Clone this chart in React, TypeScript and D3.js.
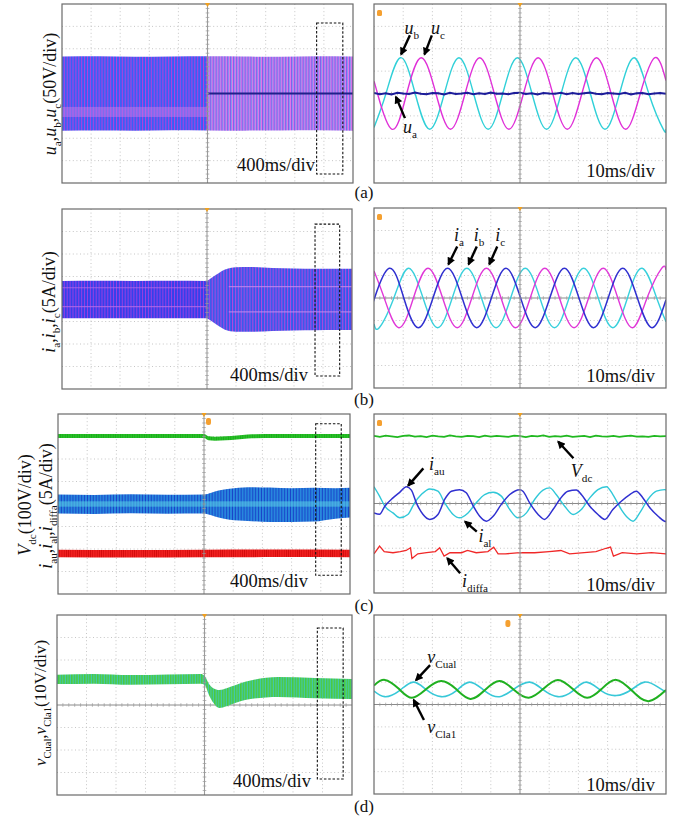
import React from "react";
import * as d3 from "d3";

type Pt = [number, number];
type Part = { s: string; it?: boolean; sub?: boolean };

const FONT = "'Liberation Serif', 'Times New Roman', serif";

// ================= DATA =================
// Left column: time in s (400 ms/div, 0..4 s), amplitude in divisions (-4..4)
const FAULT_T = 2.0;

const aEnvT = [0, 0.5, 1.0, 1.5, 2.0, 2.5, 3.0, 3.5, 4.0];
const aEnvUp = [1.65, 1.66, 1.64, 1.65, 1.66, 1.65, 1.64, 1.66, 1.65];
const aEnvLo = [-1.66, -1.65, -1.66, -1.64, -1.65, -1.66, -1.65, -1.64, -1.66];
const aInnerBefore = [-0.6, -1.05];
const aInnerAfter = [0.0];

const bEnvT = [0, 0.5, 1.0, 1.5, 2.0, 2.08, 2.16, 2.24, 2.32, 2.4, 2.6, 2.9, 3.2, 3.5, 3.8, 4.0];
const bEnvUp = [0.8, 0.81, 0.8, 0.81, 0.8, 0.98, 1.15, 1.3, 1.38, 1.41, 1.42, 1.38, 1.36, 1.35, 1.34, 1.34];
const bEnvLo = [-0.86, -0.85, -0.86, -0.85, -0.86, -1.02, -1.2, -1.35, -1.43, -1.45, -1.46, -1.42, -1.4, -1.39, -1.38, -1.38];
const bInnerBefore = [0.5, -0.34];
const bInnerAfter = [0.55, -0.57];

const cIEnvT = [0, 0.5, 1.0, 1.5, 2.0, 2.1, 2.2, 2.35, 2.6, 2.9, 3.2, 3.5, 3.8, 4.0];
const cIEnvUp = [0.42, 0.4, 0.43, 0.41, 0.42, 0.5, 0.6, 0.68, 0.75, 0.73, 0.7, 0.72, 0.7, 0.72];
const cIEnvLo = [-0.42, -0.44, -0.41, -0.43, -0.42, -0.5, -0.6, -0.7, -0.75, -0.8, -0.8, -0.78, -0.65, -0.6];
const cVdcT = [0, 1.0, 2.0, 2.06, 2.15, 2.3, 2.45, 2.6, 3.0, 4.0];
const cVdcMid = [3.02, 3.02, 3.02, 2.92, 2.9, 2.92, 2.96, 3.0, 3.02, 3.02];
const cDiffT = [0, 1.0, 2.0, 3.0, 4.0];
const cDiffMid = [-2.2, -2.21, -2.2, -2.19, -2.2];

const dEnvT = [0, 0.5, 1.0, 1.5, 1.95, 2.0, 2.06, 2.12, 2.2, 2.3, 2.55, 3.0, 3.5, 4.0];
const dEnvUp = [1.35, 1.38, 1.33, 1.36, 1.38, 1.3, 0.95, 0.75, 0.67, 0.75, 1.03, 1.24, 1.2, 1.16];
const dEnvLo = [0.93, 0.95, 0.9, 0.92, 0.95, 0.9, 0.45, 0.1, -0.13, -0.05, 0.22, 0.36, 0.3, 0.27];

// zoom windows (dashed boxes) in left panels: [t0, t1, vTop, vBottom]
const boxA = [3.5, 3.86, 3.15, -3.6];
const boxB = [3.49, 3.83, 3.33, -3.42];
const boxC = [3.53, 3.88, 3.57, -3.17];
const boxD = [3.53, 3.88, 3.42, -3.29];

// Right column: time in ms (10 ms/div, 0..100 ms), amplitude in divisions
const uB: Pt[] = [[0, -1.52], [4.1, 0], [9.1, 1.6], [14.1, 0], [19.1, -1.6], [24.1, 0], [29.1, 1.6], [34.1, 0], [39.1, -1.6], [44.1, 0], [49.1, 1.6], [54.1, 0], [59.1, -1.6], [64.1, 0], [69.1, 1.6], [74.1, 0], [79.1, -1.6], [84.1, 0], [89.1, 1.6], [94.1, 0], [99.1, -1.6], [100, -1.58]];
const uC: Pt[] = [[0, 0.55], [1.2, 0], [6.2, -1.6], [11.2, 0], [16.2, 1.6], [21.2, 0], [26.2, -1.6], [31.2, 0], [36.2, 1.6], [41.2, 0], [46.2, -1.6], [51.2, 0], [56.2, 1.6], [61.2, 0], [66.2, -1.6], [71.2, 0], [76.2, 1.6], [81.2, 0], [86.2, -1.6], [91.2, 0], [96.2, 1.6], [100, 0.58]];
const uAVals = [0.02, -0.03, 0.01, -0.04, 0.03, 0.0, -0.02, 0.04, -0.01, -0.03, 0.02, 0.01, -0.04, 0.03, -0.02, 0.0, 0.03, -0.03, 0.01, -0.02, 0.04, -0.01, 0.0, -0.03, 0.02, 0.03, -0.02, 0.01, -0.04, 0.02, 0.0, -0.01, 0.03, -0.03, 0.02, -0.02, 0.01, 0.04, -0.01, -0.03, 0.02, 0.0, -0.02, 0.03, -0.04, 0.01, 0.02, -0.03, 0.0, 0.02, -0.01];

const iA: Pt[] = [[0, -0.05], [0.2, 0], [5.2, 1.32], [10.2, 0], [15.2, -1.32], [20.2, 0], [25.2, 1.32], [30.2, 0], [35.2, -1.32], [40.2, 0], [45.2, 1.32], [50.2, 0], [55.2, -1.32], [60.2, 0], [65.2, 1.32], [70.2, 0], [75.2, -1.32], [80.2, 0], [85.2, 1.32], [90.2, 0], [95.2, -1.32], [100, -0.08]];
const iB: Pt[] = [[0, -1.15], [1.8, -1.32], [6.8, 0], [11.8, 1.32], [16.8, 0], [21.8, -1.32], [26.8, 0], [31.8, 1.32], [36.8, 0], [41.8, -1.32], [46.8, 0], [51.8, 1.32], [56.8, 0], [61.8, -1.32], [66.8, 0], [71.8, 1.32], [76.8, 0], [81.8, -1.32], [86.8, 0], [91.8, 1.32], [96.8, 0], [100, -1.05]];
const iC: Pt[] = [[0, 1.2], [3.5, 0], [8.5, -1.32], [13.5, 0], [18.5, 1.32], [23.5, 0], [28.5, -1.32], [33.5, 0], [38.5, 1.32], [43.5, 0], [48.5, -1.32], [53.5, 0], [58.5, 1.32], [63.5, 0], [68.5, -1.32], [73.5, 0], [78.5, 1.32], [83.5, 0], [88.5, -1.32], [93.5, 0], [98.5, 1.32], [100, 1.25]];

const vdcVals = [3.02, 2.98, 3.03, 3.0, 2.97, 3.02, 3.04, 2.99, 3.01, 2.97, 3.03, 3.0, 2.98, 3.04, 3.0, 2.98, 3.02, 3.01, 2.97, 3.03, 2.99, 3.02, 3.0, 2.98, 3.03, 3.01, 2.97, 3.02, 3.0, 3.04, 2.98, 3.01, 2.99, 3.03, 2.98, 3.0, 3.02, 2.97, 3.03, 3.0, 2.99, 3.02, 2.98, 3.01, 3.03, 2.99, 3.0, 2.98, 3.02, 3.0, 3.01];
const iAu: Pt[] = [[0, -0.42], [1.9, -0.48], [3.7, -0.12], [6.5, 0.25], [8.8, 0.5], [11.1, 0.75], [12.8, 0.6], [14.5, 0.03], [16.8, -0.49], [19.1, -0.71], [21.9, -0.49], [24.2, 0.18], [26.5, 0.55], [29.3, 0.62], [31.6, 0.48], [33.9, -0.09], [36.2, -0.57], [38.5, -0.79], [40.8, -0.57], [43.6, -0.04], [46.5, 0.4], [49.9, 0.62], [51, 0.55], [53.3, 0.03], [56.2, -0.49], [58.4, -0.71], [61.3, -0.27], [63.6, 0.18], [66.4, 0.55], [69.3, 0.6], [71, 0.4], [73.9, -0.12], [76.7, -0.49], [79, -0.71], [81.8, -0.27], [84.7, 0.1], [87.6, 0.4], [89.8, 0.55], [92.1, 0.25], [94.4, -0.18], [97.3, -0.57], [99.5, -0.79], [100, -0.8]];
const iAl: Pt[] = [[0, 0.75], [1.9, 0.33], [3.7, -0.12], [6.5, -0.42], [8.8, -0.64], [11.6, -0.49], [13.9, 0.03], [16.2, 0.4], [19.1, 0.65], [21.9, 0.55], [24.2, 0.03], [27.1, -0.49], [29.3, -0.64], [32.2, -0.42], [35, 0.03], [37.9, 0.4], [40.8, 0.5], [43.6, 0.33], [46.5, -0.27], [49.3, -0.64], [52.2, -0.42], [55, 0.18], [57.9, 0.6], [60.2, 0.7], [62.4, 0.4], [65.3, -0.12], [68.2, -0.49], [71, -0.27], [73.9, 0.25], [76.7, 0.62], [79.6, 0.75], [81.8, 0.4], [84.7, -0.27], [86.9, -0.64], [88.7, -0.79], [91, -0.42], [93.8, 0.18], [96.7, 0.55], [99.5, 0.62], [100, 0.6]];
const iDiffa: Pt[] = [[0, -2.25], [1.9, -1.9], [3.5, -2.15], [6.5, -2.2], [9, -2.15], [11, -2.1], [12.5, -1.98], [13, -2.46], [15, -2.25], [18, -2.2], [21, -2.15], [22.5, -1.98], [24, -2.35], [26, -2.2], [30, -2.2], [32, -2.1], [35, -2.2], [39, -2.15], [41, -1.95], [42.5, -2.25], [45, -2.25], [50, -2.2], [55, -2.2], [60, -2.15], [64, -2.1], [67, -2.25], [72, -2.2], [76, -2.15], [79.5, -2.0], [81, -1.95], [82, -2.35], [85, -2.2], [90, -2.25], [95, -2.2], [100, -2.25]];

const vCla1: Pt[] = [[0, 0.85], [3.7, 1.1], [8.5, 0.7], [13, 0.3], [18, 0.7], [23, 1.05], [28, 0.7], [33, 0.25], [38, 0.65], [43, 1.05], [48, 0.65], [53, 0.3], [58, 0.7], [63, 1.1], [68, 0.7], [73, 0.3], [78, 0.7], [83, 1.1], [88.5, 0.6], [94, 0.15], [100, 0.65]];
const vCual: Pt[] = [[0, 0.6], [3.7, 0.35], [8.5, 0.6], [13.4, 1.0], [18, 0.65], [23, 0.35], [28, 0.6], [32.8, 1.0], [38, 0.6], [43, 0.35], [48, 0.7], [53.3, 1.0], [58, 0.65], [63, 0.35], [68, 0.6], [72.7, 1.0], [78, 0.6], [83, 0.4], [88, 0.65], [92.7, 1.0], [97, 0.8], [100, 0.55]];

// Annotations (data coords): label position, arrow tail, arrow head
const annA = [
  { parts: [{ s: "u", it: true }, { s: "b", sub: true }], lt: 12.9, lv: 2.87, t0: 12.3, v0: 2.6, t1: 9.3, v1: 1.75 },
  { parts: [{ s: "u", it: true }, { s: "c", sub: true }], lt: 21.9, lv: 2.87, t0: 19.8, v0: 2.6, t1: 17.3, v1: 1.75 },
  { parts: [{ s: "u", it: true }, { s: "a", sub: true }], lt: 12.3, lv: -1.54, t0: 10.6, v0: -1.1, t1: 7.5, v1: -0.15 },
];
const annB = [
  { parts: [{ s: "i", it: true }, { s: "a", sub: true }], lt: 29.1, lv: 2.74, t0: 28.5, v0: 2.29, t1: 25.5, v1: 1.5 },
  { parts: [{ s: "i", it: true }, { s: "b", sub: true }], lt: 36.0, lv: 2.74, t0: 35.2, v0: 2.29, t1: 32.4, v1: 1.5 },
  { parts: [{ s: "i", it: true }, { s: "c", sub: true }], lt: 43.2, lv: 2.74, t0: 42.2, v0: 2.29, t1: 39.5, v1: 1.5 },
];
const annC = [
  { parts: [{ s: "i", it: true }, { s: "au", sub: true }], lt: 21.5, lv: 1.72, t0: 16.9, v0: 1.57, t1: 11.7, v1: 0.8 },
  { parts: [{ s: "V", it: true }, { s: "dc", sub: true }], lt: 71.1, lv: 1.42, t0: 68.3, v0: 2.02, t1: 63.1, v1: 2.76 },
  { parts: [{ s: "i", it: true }, { s: "al", sub: true }], lt: 38.0, lv: -1.48, t0: 35.2, v0: -1.26, t1: 31.2, v1: -0.81 },
  { parts: [{ s: "i", it: true }, { s: "diffa", sub: true }], lt: 34.6, lv: -3.49, t0: 29.5, v0: -3.12, t1: 25.1, v1: -2.45 },
];
const annD = [
  { parts: [{ s: "v", it: true }, { s: "Cual", sub: true }], lt: 23.2, lv: 2.06, t0: 19.2, v0: 1.76, t1: 14.4, v1: 1.09 },
  { parts: [{ s: "v", it: true }, { s: "Cla1", sub: true }], lt: 23.2, lv: -1.06, t0: 17.1, v0: -0.69, t1: 13.6, v1: 0.2 },
];

const labelA: Part[] = [{ s: "u", it: true }, { s: "a", sub: true }, { s: "," }, { s: "u", it: true }, { s: "b", sub: true }, { s: "," }, { s: "u", it: true }, { s: "c", sub: true }, { s: "(50V/div)" }];
const labelB: Part[] = [{ s: "i", it: true }, { s: "a", sub: true }, { s: "," }, { s: "i", it: true }, { s: "b", sub: true }, { s: "," }, { s: "i", it: true }, { s: "c", sub: true }, { s: "(5A/div)" }];
const labelC1: Part[] = [{ s: "V", it: true }, { s: "dc", sub: true }, { s: "(100V/div)" }];
const labelC2: Part[] = [{ s: "i", it: true }, { s: "au", sub: true }, { s: "," }, { s: "i", it: true }, { s: "al", sub: true }, { s: "," }, { s: "i", it: true }, { s: "diffa", sub: true }, { s: "(5A/div)" }];
const labelD: Part[] = [{ s: "v", it: true }, { s: "Cual", sub: true }, { s: "," }, { s: "v", it: true }, { s: "Cla1", sub: true }, { s: "(10V/div)" }];

const slowText = "400ms/div";
const fastText = "10ms/div";
const captions = ["(a)", "(b)", "(c)", "(d)"];

// ================= HELPERS =================
function Rich({ x, y, parts, size, rotate = false, anchor = "middle" }: { x: number; y: number; parts: Part[]; size: number; rotate?: boolean; anchor?: string }) {
  const sh = size * 0.28;
  let inSub = false;
  const spans = parts.map((p, i) => {
    let dy = 0;
    if (p.sub && !inSub) { dy = sh; inSub = true; }
    else if (!p.sub && inSub) { dy = -sh; inSub = false; }
    return (
      <tspan key={i} dy={dy !== 0 ? dy : undefined} style={{ fontStyle: p.it ? "italic" : "normal", fontSize: p.sub ? size * 0.62 : size }}>
        {p.s}
      </tspan>
    );
  });
  return (
    <text x={x} y={y} transform={rotate ? `rotate(-90 ${x} ${y})` : undefined} textAnchor={anchor as any} style={{ fontFamily: FONT, fontSize: size }} fill="#111">
      {spans}
    </text>
  );
}

type Box = { x0: number; x1: number; y0: number; y1: number };

function Frame({ b, id, children, top }: { b: Box; id: string; children?: React.ReactNode; top?: React.ReactNode }) {
  const w = b.x1 - b.x0, h = b.y1 - b.y0;
  const cx = b.x0 + w / 2, cy = b.y0 + h / 2;
  const vx = d3.range(1, 10).map((i) => b.x0 + (w * i) / 10);
  const hy = d3.range(1, 8).map((j) => b.y0 + (h * j) / 8);
  const tx = d3.range(1, 50).map((i) => b.x0 + (w * i) / 50);
  const ty = d3.range(1, 40).map((j) => b.y0 + (h * j) / 40);
  return (
    <g>
      <defs>
        <clipPath id={id}>
          <rect x={b.x0} y={b.y0} width={w} height={h} />
        </clipPath>
      </defs>
      <rect x={b.x0} y={b.y0} width={w} height={h} fill="#fff" />
      {vx.map((x, i) => i !== 4 && <line key={"v" + i} x1={x} x2={x} y1={b.y0} y2={b.y1} stroke="#b8b8b8" strokeWidth={0.8} strokeDasharray="1 2.6" />)}
      {hy.map((y, i) => i !== 3 && <line key={"h" + i} x1={b.x0} x2={b.x1} y1={y} y2={y} stroke="#b8b8b8" strokeWidth={0.8} strokeDasharray="1 2.6" />)}
      <line x1={b.x0} x2={b.x1} y1={cy} y2={cy} stroke="#8a8a8a" strokeWidth={1} />
      {tx.map((x, i) => <line key={"tx" + i} x1={x} x2={x} y1={cy - 1.8} y2={cy + 1.8} stroke="#9a9a9a" strokeWidth={0.7} />)}
      <g clipPath={`url(#${id})`}>{children}</g>
      <line x1={cx} x2={cx} y1={b.y0} y2={b.y1} stroke="#8a8a8a" strokeWidth={1.1} opacity={0.85} />
      {ty.map((y, i) => <line key={"ty" + i} x1={cx - 1.8} x2={cx + 1.8} y1={y} y2={y} stroke="#9a9a9a" strokeWidth={0.7} />)}
      <rect x={b.x0} y={b.y0} width={w} height={h} fill="none" stroke="#6a6a6a" strokeWidth={1.2} />
      <path d={`M${cx - 2.5},${b.y0 - 1} L${cx + 2.5},${b.y0 - 1} L${cx},${b.y0 + 3} Z`} fill="#f0a020" />
      {top}
    </g>
  );
}

function scalesL(b: Box) {
  return {
    x: d3.scaleLinear().domain([0, 4]).range([b.x0, b.x1]),
    y: d3.scaleLinear().domain([-4, 4]).range([b.y1, b.y0]),
  };
}
function scalesR(b: Box) {
  return {
    x: d3.scaleLinear().domain([0, 100]).range([b.x0, b.x1]),
    y: d3.scaleLinear().domain([-4, 4]).range([b.y1, b.y0]),
  };
}

function envArea(sx: any, sy: any, T: number[], up: number[], lo: number[], from: number, to: number) {
  const pts = T.map((t, i) => ({ t, u: up[i], l: lo[i] })).filter((p) => p.t >= from && p.t <= to);
  return d3.area<any>().x((p) => sx(p.t)).y0((p) => sy(p.l)).y1((p) => sy(p.u)).curve(d3.curveMonotoneX)(pts) || "";
}

function lineR(sx: any, sy: any, pts: Pt[], curve: any = d3.curveNatural) {
  return d3.line<Pt>().x((p) => sx(p[0])).y((p) => sy(p[1])).curve(curve)(pts) || "";
}

function DashBox({ sx, sy, bx }: { sx: any; sy: any; bx: number[] }) {
  return <rect x={sx(bx[0])} y={sy(bx[2])} width={sx(bx[1]) - sx(bx[0])} height={sy(bx[3]) - sy(bx[2])} fill="none" stroke="#111" strokeWidth={1.1} strokeDasharray="2.5 1.8" />;
}

function Arrows({ sx, sy, ann, size }: { sx: any; sy: any; ann: any[]; size: number }) {
  return (
    <g>
      {ann.map((a, i) => (
        <g key={i}>
          <line x1={sx(a.t0)} y1={sy(a.v0)} x2={sx(a.t1)} y2={sy(a.v1)} stroke="#000" strokeWidth={2.4} markerEnd="url(#arrowHead)" />
          <Rich x={sx(a.lt)} y={sy(a.lv) + 5} parts={a.parts} size={size} />
        </g>
      ))}
    </g>
  );
}

function StripePattern({ id, base, stripes, w }: { id: string; base: string; stripes: [number, number, string][]; w: number }) {
  return (
    <pattern id={id} width={w} height={8} patternUnits="userSpaceOnUse">
      <rect x={0} y={0} width={w} height={8} fill={base} />
      {stripes.map((s, i) => <rect key={i} x={s[0]} y={0} width={s[1]} height={8} fill={s[2]} />)}
    </pattern>
  );
}

function Txt({ x, y, s, size }: { x: number; y: number; s: string; size: number }) {
  return <text x={x} y={y} textAnchor="end" style={{ fontFamily: FONT, fontSize: size }} fill="#111">{s}</text>;
}

// ================= APP =================
export default function App() {
  const aL: Box = { x0: 62, x1: 353, y0: 4, y1: 183 };
  const aR: Box = { x0: 374, x1: 666, y0: 4, y1: 183 };
  const bL: Box = { x0: 62, x1: 352, y0: 209, y1: 389 };
  const bR: Box = { x0: 374, x1: 666, y0: 208, y1: 388 };
  const cL: Box = { x0: 58, x1: 350, y0: 414, y1: 594 };
  const cR: Box = { x0: 374, x1: 666, y0: 414, y1: 593 };
  const dL: Box = { x0: 57, x1: 352, y0: 615, y1: 795 };
  const dR: Box = { x0: 374, x1: 666, y0: 615, y1: 794 };

  const sAL = scalesL(aL), sAR = scalesR(aR), sBL = scalesL(bL), sBR = scalesR(bR);
  const sCL = scalesL(cL), sCR = scalesR(cR), sDL = scalesL(dL), sDR = scalesR(dR);

  const uAPts: Pt[] = uAVals.map((v, i) => [i * 2, v]);
  const vdcPts: Pt[] = vdcVals.map((v, i) => [i * 2, v]);

  const vdcUp = cVdcMid.map((v) => v + 0.09), vdcLo = cVdcMid.map((v) => v - 0.09);
  const diffUp = cDiffMid.map((v) => v + 0.17), diffLo = cDiffMid.map((v) => v - 0.17);

  const slowFs = 18.5, fastFs = 18.5;
  const orangeSq = (b: Box) => <rect x={b.x0 + 3} y={b.y0 + 6} width={5} height={6} rx={1.5} fill="#f5a030" />;

  return (
    <svg width={679} height={823} viewBox="0 0 679 823" style={{ position: "absolute", left: 0, top: 0, background: "#fff" }}>
      <defs>
        <marker id="arrowHead" viewBox="0 0 10 10" refX={8} refY={5} markerWidth={9} markerHeight={8} markerUnits="userSpaceOnUse" orient="auto">
          <path d="M0,0 L10,5 L0,10 Z" fill="#000" />
        </marker>
        <StripePattern id="pAbefore" w={2.9} base="#3a30ee" stripes={[[0, 0.9, "#c040dc"], [1.5, 0.8, "#3aa0ff"]]} />
        <StripePattern id="pAafter" w={2.9} base="#b05ee8" stripes={[[0, 0.9, "#e878e8"], [1.3, 0.7, "#6a5af0"], [2.2, 0.5, "#70d0f0"]]} />
        <StripePattern id="pBbefore" w={2.9} base="#3a2ee8" stripes={[[0, 0.8, "#b040e0"], [1.6, 0.7, "#2a60f0"]]} />
        <StripePattern id="pBafter" w={2.9} base="#4030e8" stripes={[[0, 0.9, "#b848e0"], [1.5, 0.7, "#30a0f0"]]} />
        <StripePattern id="pC" w={2.9} base="#2070d8" stripes={[[0, 0.9, "#1840c8"], [1.6, 0.6, "#38b8e8"]]} />
        <StripePattern id="pRed" w={2.2} base="#f02020" stripes={[[0, 0.7, "#d00808"]]} />
        <StripePattern id="pGreen" w={2.4} base="#28c028" stripes={[[0, 0.7, "#18a818"]]} />
        <StripePattern id="pD" w={2.6} base="#30c030" stripes={[[0, 0.8, "#40c8c0"], [1.5, 0.6, "#80e080"]]} />
      </defs>

      {/* ===== (a) left ===== */}
      <Frame b={aL} id="clipAL">
        <path d={envArea(sAL.x, sAL.y, aEnvT, aEnvUp, aEnvLo, 0, FAULT_T)} fill="url(#pAbefore)" />
        <path d={envArea(sAL.x, sAL.y, aEnvT, aEnvUp, aEnvLo, FAULT_T, 4)} fill="url(#pAafter)" />
        <rect x={sAL.x(0)} y={sAL.y(aInnerBefore[0])} width={sAL.x(FAULT_T) - sAL.x(0)} height={sAL.y(aInnerBefore[1]) - sAL.y(aInnerBefore[0])} fill="#d080e8" opacity={0.45} />
        {aInnerAfter.map((v, i) => <line key={i} x1={sAL.x(FAULT_T)} x2={sAL.x(4)} y1={sAL.y(v)} y2={sAL.y(v)} stroke="#20208a" strokeWidth={2} />)}
      </Frame>
      <DashBox sx={sAL.x} sy={sAL.y} bx={boxA} />
      <Txt x={315} y={171} s={slowText} size={slowFs} />

      {/* ===== (a) right ===== */}
      <Frame b={aR} id="clipAR" top={orangeSq(aR)}>
        <path d={lineR(sAR.x, sAR.y, uB)} fill="none" stroke="#30d0d8" strokeWidth={1.4} />
        <path d={lineR(sAR.x, sAR.y, uC)} fill="none" stroke="#e030d8" strokeWidth={1.4} />
        <path d={lineR(sAR.x, sAR.y, uAPts, d3.curveLinear)} fill="none" stroke="#1c1c9a" strokeWidth={2} />
      </Frame>
      <Arrows sx={sAR.x} sy={sAR.y} ann={annA} size={18} />
      <Txt x={655} y={177} s={fastText} size={fastFs} />

      {/* ===== (b) left ===== */}
      <Frame b={bL} id="clipBL">
        <path d={envArea(sBL.x, sBL.y, bEnvT, bEnvUp, bEnvLo, 0, FAULT_T)} fill="url(#pBbefore)" />
        <path d={envArea(sBL.x, sBL.y, bEnvT, bEnvUp, bEnvLo, FAULT_T, 4)} fill="url(#pBafter)" />
        {bInnerBefore.map((v, i) => <line key={"bb" + i} x1={sBL.x(0)} x2={sBL.x(FAULT_T)} y1={sBL.y(v)} y2={sBL.y(v)} stroke="#c070e8" strokeWidth={1.2} opacity={0.7} />)}
        {bInnerAfter.map((v, i) => <line key={"ba" + i} x1={sBL.x(2.3)} x2={sBL.x(4)} y1={sBL.y(v)} y2={sBL.y(v)} stroke="#d090f0" strokeWidth={1.2} opacity={0.7} />)}
      </Frame>
      <DashBox sx={sBL.x} sy={sBL.y} bx={boxB} />
      <Txt x={308} y={381} s={slowText} size={slowFs} />

      {/* ===== (b) right ===== */}
      <Frame b={bR} id="clipBR" top={orangeSq(bR)}>
        <path d={lineR(sBR.x, sBR.y, iB)} fill="none" stroke="#38d0dc" strokeWidth={1.4} />
        <path d={lineR(sBR.x, sBR.y, iC)} fill="none" stroke="#e038d8" strokeWidth={1.4} />
        <path d={lineR(sBR.x, sBR.y, iA)} fill="none" stroke="#3030d0" strokeWidth={1.5} />
      </Frame>
      <Arrows sx={sBR.x} sy={sBR.y} ann={annB} size={18} />
      <Txt x={655} y={382} s={fastText} size={fastFs} />

      {/* ===== (c) left ===== */}
      <Frame b={cL} id="clipCL" top={<rect x={sCL.x(2.0) + 2} y={cL.y0 + 4} width={5} height={7} rx={2} fill="#f5a030" />}>
        <path d={envArea(sCL.x, sCL.y, cVdcT, vdcUp, vdcLo, 0, 4)} fill="url(#pGreen)" />
        <path d={envArea(sCL.x, sCL.y, cIEnvT, cIEnvUp, cIEnvLo, 0, 4)} fill="url(#pC)" />
        <rect x={sCL.x(0)} y={sCL.y(0.12)} width={sCL.x(4) - sCL.x(0)} height={sCL.y(-0.12) - sCL.y(0.12)} fill="#60d8e8" opacity={0.5} />
        <path d={envArea(sCL.x, sCL.y, cDiffT, diffUp, diffLo, 0, 4)} fill="url(#pRed)" />
      </Frame>
      <DashBox sx={sCL.x} sy={sCL.y} bx={boxC} />
      <Txt x={308} y={587} s={slowText} size={slowFs} />

      {/* ===== (c) right ===== */}
      <Frame b={cR} id="clipCR" top={orangeSq(cR)}>
        <path d={lineR(sCR.x, sCR.y, vdcPts, d3.curveLinear)} fill="none" stroke="#20b820" strokeWidth={1.8} />
        <path d={lineR(sCR.x, sCR.y, iAl, d3.curveMonotoneX)} fill="none" stroke="#30c8d8" strokeWidth={1.4} />
        <path d={lineR(sCR.x, sCR.y, iAu, d3.curveMonotoneX)} fill="none" stroke="#3030d0" strokeWidth={1.5} />
        <path d={lineR(sCR.x, sCR.y, iDiffa, d3.curveLinear)} fill="none" stroke="#f02828" strokeWidth={1.3} />
      </Frame>
      <Arrows sx={sCR.x} sy={sCR.y} ann={annC} size={18} />
      <Txt x={655} y={591} s={fastText} size={fastFs} />

      {/* ===== (d) left ===== */}
      <Frame b={dL} id="clipDL">
        <path d={envArea(sDL.x, sDL.y, dEnvT, dEnvUp, dEnvLo, 0, 4)} fill="url(#pD)" />
      </Frame>
      <DashBox sx={sDL.x} sy={sDL.y} bx={boxD} />
      <Txt x={311} y={787} s={slowText} size={slowFs} />

      {/* ===== (d) right ===== */}
      <Frame b={dR} id="clipDR" top={<rect x={sDR.x(45)} y={dR.y0 + 5} width={5} height={7} rx={2} fill="#f5a030" />}>
        <path d={lineR(sDR.x, sDR.y, vCual)} fill="none" stroke="#38c8d8" strokeWidth={1.6} />
        <path d={lineR(sDR.x, sDR.y, vCla1)} fill="none" stroke="#20b020" strokeWidth={2} />
      </Frame>
      <Arrows sx={sDR.x} sy={sDR.y} ann={annD} size={18} />
      <Txt x={655} y={791} s={fastText} size={fastFs} />

      {/* ===== axis labels ===== */}
      <Rich x={56} y={94} parts={labelA} size={18} rotate />
      <Rich x={55} y={302} parts={labelB} size={18} rotate />
      <Rich x={31} y={505} parts={labelC1} size={18} rotate />
      <Rich x={52} y={506} parts={labelC2} size={18} rotate />
      <Rich x={46} y={703} parts={labelD} size={17} rotate />

      {/* ===== captions ===== */}
      {captions.map((c, i) => (
        <text key={c} x={364} y={[198, 405, 611, 812][i]} textAnchor="middle" style={{ fontFamily: FONT, fontSize: 17 }} fill="#111">{c}</text>
      ))}
    </svg>
  );
}
